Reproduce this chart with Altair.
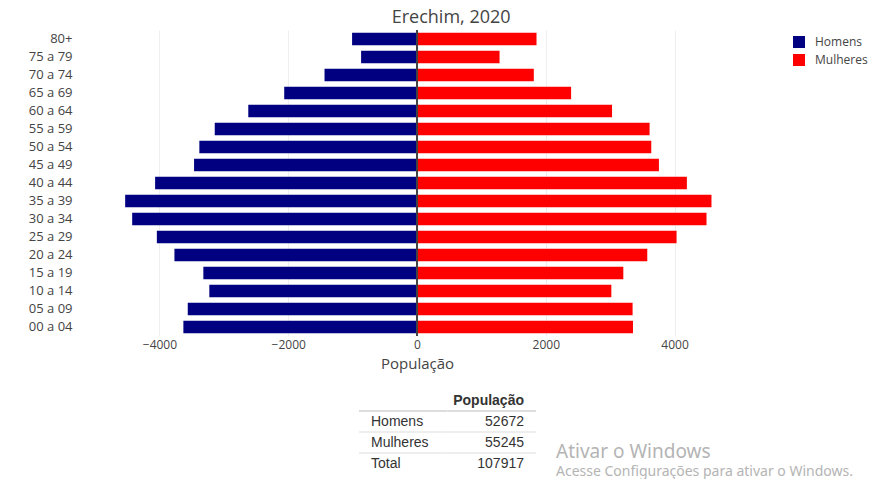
import altair as alt
import pandas as pd

# ---------------- data ----------------
ages = ["00 a 04", "05 a 09", "10 a 14", "15 a 19", "20 a 24", "25 a 29",
        "30 a 34", "35 a 39", "40 a 44", "45 a 49", "50 a 54", "55 a 59",
        "60 a 64", "65 a 69", "70 a 74", "75 a 79", "80+"]
homens = [3628, 3560, 3225, 3318, 3767, 4040, 4423, 4532, 4067, 3462,
          3380, 3141, 2620, 2062, 1436, 868, 1008]
mulheres = [3354, 3348, 3018, 3204, 3576, 4031, 4496, 4573, 4191, 3757,
            3638, 3612, 3029, 2393, 1814, 1282, 1856]
sexos = ["Homens", "Mulheres"]
cores = ["#000080", "#ff0000"]
x_ticks = [-4000, -2000, 0, 2000, 4000]
x_domain = [-5280, 5280]
titulo = "Erechim, 2020"
eixo_x = "População"

tabela_cabecalho = "População"
tabela_rotulos = ["Homens", "Mulheres", "Total"]
tabela_valores = [52672, 55245, 107917]

marca_linha1 = "Ativar o Windows"
marca_linha2 = "Acesse Configurações para ativar o Windows."

FONT = "Open Sans"
TFONT = "Liberation Sans"
PLOT_W = 680
TABLE_X = [282, 459]          # table span inside the plot-width frame
COL_W = (TABLE_X[1] - TABLE_X[0]) / 2
ROW_H = 21

# ---------------- pyramid ----------------
df = pd.DataFrame({
    "idade": ages * 2,
    "sexo": ["Homens"] * len(ages) + ["Mulheres"] * len(ages),
    "valor": [-v for v in homens] + mulheres,
})

bars = alt.Chart(df).mark_bar().encode(
    x=alt.X("valor:Q",
            scale=alt.Scale(domain=x_domain, nice=False, zero=False),
            axis=alt.Axis(values=x_ticks, format="d", title=eixo_x,
                          grid=True, gridColor="#eeeeee", domain=False,
                          ticks=False, labelFont=FONT, labelFontSize=12,
                          labelColor="#444444", labelPadding=3,
                          titleFont=FONT, titleFontSize=15,
                          titleColor="#444444", titleFontWeight="normal",
                          titlePadding=6)),
    y=alt.Y("idade:N", sort=list(reversed(ages)),
            scale=alt.Scale(paddingInner=0.3, paddingOuter=0.15),
            axis=alt.Axis(title=None, ticks=False, domain=False,
                          labelFont=FONT, labelFontSize=13,
                          labelColor="#444444", labelPadding=5)),
    color=alt.Color("sexo:N", scale=alt.Scale(domain=sexos, range=cores),
                    legend=alt.Legend(title=None, orient="right", offset=30,
                                      padding=6, symbolType="square",
                                      symbolSize=144, symbolStrokeWidth=0,
                                      labelFont=FONT, labelFontSize=12,
                                      labelColor="#444444", labelOffset=10,
                                      rowPadding=6)),
)

zero = alt.Chart(df).mark_rule(color="#444444", strokeWidth=1).encode(
    x=alt.datum(0)
)

top = alt.layer(bars, zero).properties(
    width=PLOT_W, height=306,
    title=alt.TitleParams(titulo, font=FONT, fontSize=18, fontWeight="normal",
                          color="#444444", anchor="middle", frame="bounds",
                          offset=3),
)

# ---------------- table ----------------
linhas = ["hdr"] + tabela_rotulos
colunas = ["rotulo", "valor"]
yscale = alt.Scale(type="band", domain=linhas, paddingInner=0, paddingOuter=0)
xscale = alt.Scale(type="band", domain=colunas, range=TABLE_X,
                   paddingInner=0, paddingOuter=0)

hdr_df = pd.DataFrame({"linha": ["hdr"], "coluna": ["valor"],
                       "texto": [tabela_cabecalho]})
rot_df = pd.DataFrame({"linha": tabela_rotulos,
                       "coluna": ["rotulo"] * len(tabela_rotulos),
                       "texto": tabela_rotulos})
val_df = pd.DataFrame({"linha": tabela_rotulos,
                       "coluna": ["valor"] * len(tabela_rotulos),
                       "texto": [str(v) for v in tabela_valores]})
thick_df = pd.DataFrame({"linha": [tabela_rotulos[0]] * 2, "coluna": colunas})
thin_df = pd.DataFrame({"linha": [r for r in tabela_rotulos[1:] for _ in colunas],
                        "coluna": colunas * (len(tabela_rotulos) - 1)})
wm1_df = pd.DataFrame({"linha": ["Mulheres"], "coluna": ["valor"],
                       "texto": [marca_linha1]})
wm2_df = pd.DataFrame({"linha": ["Mulheres"], "coluna": ["valor"],
                       "texto": [marca_linha2]})


def txt(data, align, dx, band, **kw):
    return alt.Chart(data).mark_text(align=align, dx=dx, **kw).encode(
        x=alt.X("coluna:N", scale=xscale, bandPosition=band, axis=None),
        y=alt.Y("linha:N", scale=yscale, axis=None),
        text="texto:N",
    )


hdr = txt(hdr_df, "right", -12, 1, font=TFONT, fontSize=14,
          fontWeight="bold", color="#333333")
rot = txt(rot_df, "left", 12, 0, font=TFONT, fontSize=14, color="#333333")
val = txt(val_df, "right", -12, 1, font=TFONT, fontSize=14, color="#333333")
wm1 = txt(wm1_df, "left", 20, 1, dy=9, font="Noto Sans", fontSize=19,
          color="#b4b4b4")
wm2 = txt(wm2_df, "left", 20, 1, dy=29, font="Noto Sans", fontSize=14,
          color="#b4b4b4")


def sep(data, thickness):
    return alt.Chart(data).mark_tick(orient="horizontal", size=COL_W,
                                     thickness=thickness,
                                     color="#dddddd", opacity=1).encode(
        x=alt.X("coluna:N", scale=xscale, axis=None),
        y=alt.Y("linha:N", scale=yscale, bandPosition=0, axis=None),
    )


table = alt.layer(sep(thick_df, 2), sep(thin_df, 1), hdr, rot, val,
                  wm1, wm2).properties(width=PLOT_W, height=ROW_H * len(linhas))

chart = alt.vconcat(top, table, spacing=19).resolve_legend(
    color="independent"
).resolve_scale(color="independent").properties(
    padding={"left": 20, "top": 0, "right": 0, "bottom": 0},
    background="white",
).configure_view(strokeWidth=0)

chart.save("out.html", embed_options={"renderer": "svg", "actions": False})
